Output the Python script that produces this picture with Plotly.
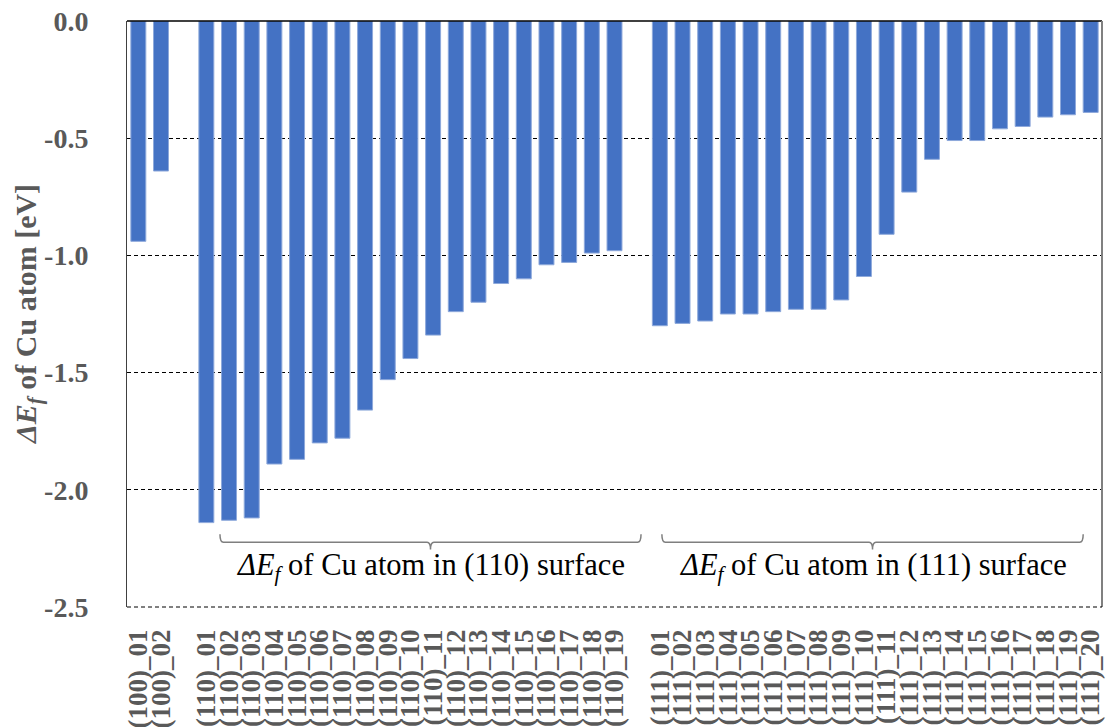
import plotly.graph_objects as go

# Formation energy change of a Cu atom at each surface site [eV]
labels_100 = ["(100)_01", "(100)_02"]
labels_110 = ["(110)_01", "(110)_02", "(110)_03", "(110)_04", "(110)_05",
              "(110)_06", "(110)_07", "(110)_08", "(110)_09", "(110)_10",
              "(110)_11", "(110)_12", "(110)_13", "(110)_14", "(110)_15",
              "(110)_16", "(110)_17", "(110)_18", "(110)_19"]
labels_111 = ["(111)_01", "(111)_02", "(111)_03", "(111)_04", "(111)_05",
              "(111)_06", "(111)_07", "(111)_08", "(111)_09", "(111)_10",
              "(111)_11", "(111)_12", "(111)_13", "(111)_14", "(111)_15",
              "(111)_16", "(111)_17", "(111)_18", "(111)_19", "(111)_20"]

dEf_100 = [-0.94, -0.64]
dEf_110 = [-2.14, -2.13, -2.12, -1.89, -1.87, -1.80, -1.78, -1.66, -1.53,
           -1.44, -1.34, -1.24, -1.20, -1.12, -1.10, -1.04, -1.03, -0.99, -0.98]
dEf_111 = [-1.30, -1.29, -1.28, -1.25, -1.25, -1.24, -1.23, -1.23, -1.19,
           -1.09, -0.91, -0.73, -0.59, -0.51, -0.51, -0.46, -0.45, -0.41,
           -0.40, -0.39]

y_tickvals = [0.0, -0.5, -1.0, -1.5, -2.0, -2.5]
y_ticktext = ["0.0", "-0.5", "-1.0", "-1.5", "-2.0", "-2.5"]

# Lay the three surface groups out on one axis with an empty slot between groups
groups = [(labels_100, dEf_100), (labels_110, dEf_110), (labels_111, dEf_111)]
xs, ys, names = [], [], []
pos = 0
for labels, vals in groups:
    for lab, v in zip(labels, vals):
        xs.append(pos)
        ys.append(v)
        names.append(lab)
        pos += 1
    pos += 1  # gap slot
n_slots = pos - 1

SERIF = "Liberation Serif, Times New Roman, serif"
GREY = "#595959"

fig = go.Figure(go.Bar(
    x=xs, y=ys,
    marker=dict(color="#4472C4", line=dict(color="#8EA9DB", width=1)),
    hoverinfo="x+y",
))

fig.update_layout(
    width=1108, height=727,
    margin=dict(l=127, r=6, t=21, b=120),
    paper_bgcolor="white", plot_bgcolor="white",
    bargap=0.34,
    showlegend=False,
    xaxis=dict(
        range=[-0.5, n_slots - 0.5],
        tickvals=xs, ticktext=names,
        tickangle=-90,
        tickfont=dict(family=SERIF, size=27, color=GREY, weight="bold"),
        showgrid=False, zeroline=False, showline=False,
        ticks="", ticklabelstandoff=16, automargin=False,
    ),
    yaxis=dict(
        range=[-2.5, 0],
        tickvals=y_tickvals, ticktext=y_ticktext,
        tickfont=dict(family=SERIF, size=28, color=GREY, weight="bold"),
        showgrid=True, gridcolor="black", gridwidth=1, griddash="4px,3px",
        zeroline=False,
        showline=True, linecolor="#404040", linewidth=1,
        ticks="", ticklabelstandoff=32, automargin=False,
    ),
)

# Frame: solid category axis at 0 on top, grey right border, dashed bottom
fig.add_shape(type="line", xref="paper", yref="paper", x0=0, x1=1, y0=1, y1=1,
              line=dict(color="black", width=1.5))
fig.add_shape(type="line", xref="paper", yref="paper", x0=1, x1=1, y0=0, y1=1,
              line=dict(color="#808080", width=2))
fig.add_shape(type="line", xref="paper", yref="paper", x0=0, x1=1, y0=0, y1=0,
              line=dict(color="black", width=1, dash="4px,3px"))

# Curly braces under the (110) and (111) groups, with captions
brace_specs = [
    (3.6, 22.17, "<i>ΔE<sub>f</sub></i> of Cu atom in (110) surface"),
    (23.09, 41.67, "<i>ΔE<sub>f</sub></i> of Cu atom in (111) surface"),
]
y_tip, y_line, y_point = -2.19, -2.224, -2.255
for x0, x1, caption in brace_specs:
    xc = (x0 + x1) / 2
    d = 0.15
    path = (f"M {x0},{y_tip} Q {x0},{y_line} {x0 + d},{y_line} "
            f"L {xc - d},{y_line} Q {xc},{y_line} {xc},{y_point} "
            f"Q {xc},{y_line} {xc + d},{y_line} "
            f"L {x1 - d},{y_line} Q {x1},{y_line} {x1},{y_tip}")
    fig.add_shape(type="path", xref="x", yref="y", path=path,
                  line=dict(color="#7F7F7F", width=1.5))
    fig.add_annotation(x=xc, y=-2.33, xref="x", yref="y", text=caption,
                       showarrow=False, xanchor="center", yanchor="middle",
                       font=dict(family=SERIF, size=30.5, color="black"))

# Rotated y-axis title
fig.add_annotation(
    xref="paper", yref="paper", x=0, y=0.5, xshift=-99,
    text="<i>ΔE<sub>f</sub></i> of Cu atom [eV]",
    textangle=-90, showarrow=False, xanchor="center", yanchor="middle",
    font=dict(family=SERIF, size=30, color=GREY, weight="bold"),
)

fig.write_html("out.html")
